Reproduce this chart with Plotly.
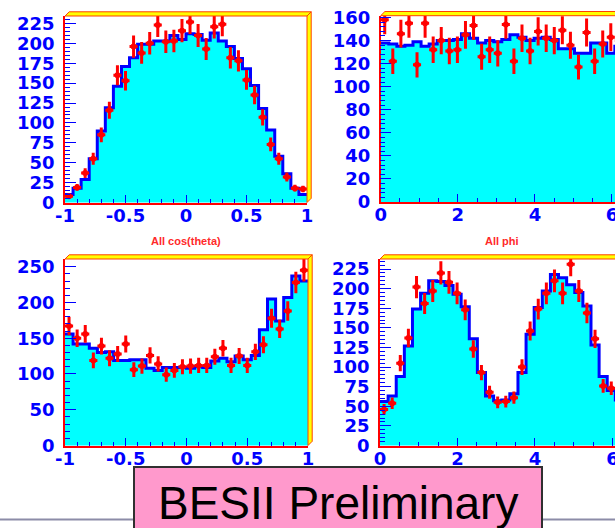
import numpy as np
import plotly.graph_objects as go

W, H = 615, 528

# 30-bin histograms: Monte Carlo (filled) and data (points with errors)
cos_edges = np.linspace(-1.0, 1.0, 31)
phi_edges = np.linspace(0.0, 2 * np.pi, 31)

cos_all_mc = [10, 18, 29, 55, 90, 119, 146, 171, 182, 199, 199, 203, 203, 210, 205,
              212, 211, 204, 213, 203, 196, 181, 168, 147, 118, 91, 58, 36, 18, 10]
cos_all_data = [8, 19, 37, 55, 85, 116, 160, 153, 196, 188, 200, 223, 202, 203, 216,
                227, 210, 193, 221, 224, 182, 178, 154, 135, 107, 73, 55, 32, 18, 17]

phi_all_mc = [138, 137, 135, 136, 139, 135, 137, 140, 140, 141, 146, 142, 138, 140, 139,
              141, 145, 143, 140, 142, 143, 141, 133, 133, 129, 129, 138, 138, 129, 135]
phi_all_data = [158, 122, 146, 155, 119, 155, 132, 140, 131, 132, 145, 153, 126, 132, 129,
                154, 122, 142, 131, 148, 142, 140, 149, 136, 117, 147, 122, 137, 143, 140]

cos_b_mc = [156, 142, 142, 136, 130, 131, 119, 119, 120, 120, 108, 105, 109, 109, 109,
            108, 110, 109, 118, 122, 117, 125, 120, 126, 162, 205, 174, 207, 237, 230]
cos_b_data = [167, 150, 156, 119, 139, 122, 128, 142, 106, 111, 126, 114, 99, 105, 110,
              111, 112, 112, 124, 136, 112, 125, 112, 131, 141, 178, 163, 188, 228, 245]

phi_b_mc = [56, 63, 88, 127, 174, 194, 210, 209, 204, 193, 177, 136, 93, 63, 57,
            58, 66, 93, 142, 176, 197, 218, 214, 205, 195, 178, 128, 88, 70, 58]
phi_b_data = [46, 54, 105, 137, 202, 181, 197, 220, 208, 194, 173, 123, 93, 68, 55,
              56, 61, 100, 146, 174, 194, 210, 194, 231, 197, 169, 136, 76, 73, 60]

cos_ticks = [-1, -0.5, 0, 0.5, 1]
cos_ticktext = ["-1", "-0.5", "0", "0.5", "1"]
phi_ticks = [0, 2, 4, 6]
phi_ticktext = ["0", "2", "4", "6"]

titles = ["All cos(theta)", "All phi"]

BLUE = "#0000ff"
CYAN = "#00ffff"
RED = "#ff0000"


def fx(x):
    return x / W


def fy(y):
    return 1 - y / H


# pixel boxes (left, right, top, bottom) for each pad
panels = [
    dict(edges=cos_edges, mc=cos_all_mc, data=cos_all_data, box=(65, 307, 16, 202.5),
         xr=[-1, 1], yr=[0, 234.4], tv=cos_ticks, tt=cos_ticktext, xminor=0.1,
         ydt=25, yminor=5, right_band=True),
    dict(edges=phi_edges, mc=phi_all_mc, data=phi_all_data, box=(380.7, 615, 15.7, 202),
         xr=[0, 6.078], yr=[0, 161.6], tv=phi_ticks, tt=phi_ticktext, xminor=0.5,
         ydt=20, yminor=4, right_band=False),
    dict(edges=cos_edges, mc=cos_b_mc, data=cos_b_data, box=(65, 308, 259, 445.5),
         xr=[-1, 1], yr=[0, 260.8], tv=cos_ticks, tt=cos_ticktext, xminor=0.1,
         ydt=50, yminor=10, right_band=True),
    dict(edges=phi_edges, mc=phi_b_mc, data=phi_b_data, box=(380, 615, 259, 445.5),
         xr=[0, 6.065], yr=[0, 237.8], tv=phi_ticks, tt=phi_ticktext, xminor=0.5,
         ydt=25, yminor=5, right_band=False),
]

fig = go.Figure()
layout = {}
shapes = []
tickfont = dict(family="DejaVu Sans", size=18, color=BLUE, weight="bold")

for i, p in enumerate(panels, start=1):
    xa = "x" if i == 1 else f"x{i}"
    ya = "y" if i == 1 else f"y{i}"
    edges = np.asarray(p["edges"])
    centers = 0.5 * (edges[:-1] + edges[1:])
    bw = edges[1] - edges[0]
    mc = np.asarray(p["mc"], dtype=float)
    data = np.asarray(p["data"], dtype=float)

    fig.add_trace(go.Bar(x=centers, y=mc, width=bw, marker=dict(color=CYAN, line=dict(width=0)),
                         xaxis=xa, yaxis=ya, showlegend=False, hoverinfo="skip"))
    fig.add_trace(go.Scatter(x=edges, y=np.append(mc, mc[-1]), mode="lines",
                             line=dict(shape="hv", color=BLUE, width=3),
                             xaxis=xa, yaxis=ya, showlegend=False, hoverinfo="skip"))
    fig.add_trace(go.Scatter(x=centers, y=data, mode="markers",
                             marker=dict(color=RED, size=6),
                             error_y=dict(type="data", array=np.sqrt(data), color=RED,
                                          thickness=3, width=0),
                             error_x=dict(type="constant", value=bw / 2, color=RED,
                                          thickness=3, width=0),
                             xaxis=xa, yaxis=ya, showlegend=False))

    l, r, t, b = p["box"]
    common = dict(showline=True, linecolor=RED, linewidth=1.5, showgrid=False,
                  zeroline=False, ticks="inside", tickcolor=BLUE, tickwidth=1,
                  tickfont=tickfont, fixedrange=True, automargin=False,
                  ticklabeloverflow="allow")
    layout["xaxis" if i == 1 else f"xaxis{i}"] = dict(
        domain=[fx(l), min(fx(r), 1.0)], range=p["xr"], anchor=ya,
        tickvals=p["tv"], ticktext=p["tt"], ticklen=8, ticklabelstandoff=-4,
        minor=dict(dtick=p["xminor"], ticks="inside", ticklen=4, tickcolor=BLUE, showgrid=False),
        **common)
    layout["yaxis" if i == 1 else f"yaxis{i}"] = dict(
        domain=[fy(b), fy(t)], range=p["yr"], anchor=xa,
        dtick=p["ydt"], tick0=0, ticklen=11, ticklabelstandoff=5,
        minor=dict(dtick=p["yminor"], ticks="inside", ticklen=5, tickcolor=BLUE, showgrid=False),
        **common)

    # bevelled frame: top band and, where visible, right band
    d = 4.2
    rr = r if p["right_band"] else 625
    shapes.append(dict(type="path", xref="paper", yref="paper", layer="above",
                       path=f"M {fx(l)},{fy(t)} L {fx(l + d)},{fy(t - d)} L {fx(rr + d)},{fy(t - d)} "
                            f"L {fx(rr)},{fy(t)} Z",
                       fillcolor="#ffff00", line=dict(color="#ff4000", width=1)))
    if p["right_band"]:
        shapes.append(dict(type="path", xref="paper", yref="paper", layer="above",
                           path=f"M {fx(r)},{fy(t)} L {fx(r + d)},{fy(t - d)} L {fx(r + d)},{fy(b - d)} "
                                f"L {fx(r)},{fy(b)} Z",
                           fillcolor="#ffff00", line=dict(color="#ff4000", width=1)))

# slide rule line and the label box
shapes.append(dict(type="line", xref="paper", yref="paper", layer="below",
                   x0=0, x1=1, y0=fy(519.5), y1=fy(519.5),
                   line=dict(color="#8c8ca8", width=2)))
shapes.append(dict(type="rect", xref="paper", yref="paper", layer="above",
                   x0=fx(134), x1=fx(542), y0=fy(535), y1=fy(467),
                   fillcolor="#ff99cc", line=dict(color="#303030", width=2)))

annotations = [
    dict(text=titles[0], x=fx(186), y=fy(240.5), xref="paper", yref="paper",
         showarrow=False, xanchor="center", yanchor="middle",
         font=dict(family="Liberation Sans", size=11, color="#ff2a2a", weight="bold")),
    dict(text=titles[1], x=fx(502), y=fy(240.5), xref="paper", yref="paper",
         showarrow=False, xanchor="center", yanchor="middle",
         font=dict(family="Liberation Sans", size=11, color="#ff2a2a", weight="bold")),
    dict(text="BESII Preliminary", x=fx(338), y=fy(503), xref="paper", yref="paper",
         showarrow=False, xanchor="center", yanchor="middle",
         font=dict(family="Liberation Sans", size=46, color="#000000")),
]

fig.update_layout(width=W, height=H, margin=dict(l=0, r=0, t=0, b=0, autoexpand=False),
                  paper_bgcolor="white", plot_bgcolor="white", bargap=0,
                  shapes=shapes, annotations=annotations, showlegend=False, **layout)

fig.write_html("out.html", config={"displayModeBar": False})
